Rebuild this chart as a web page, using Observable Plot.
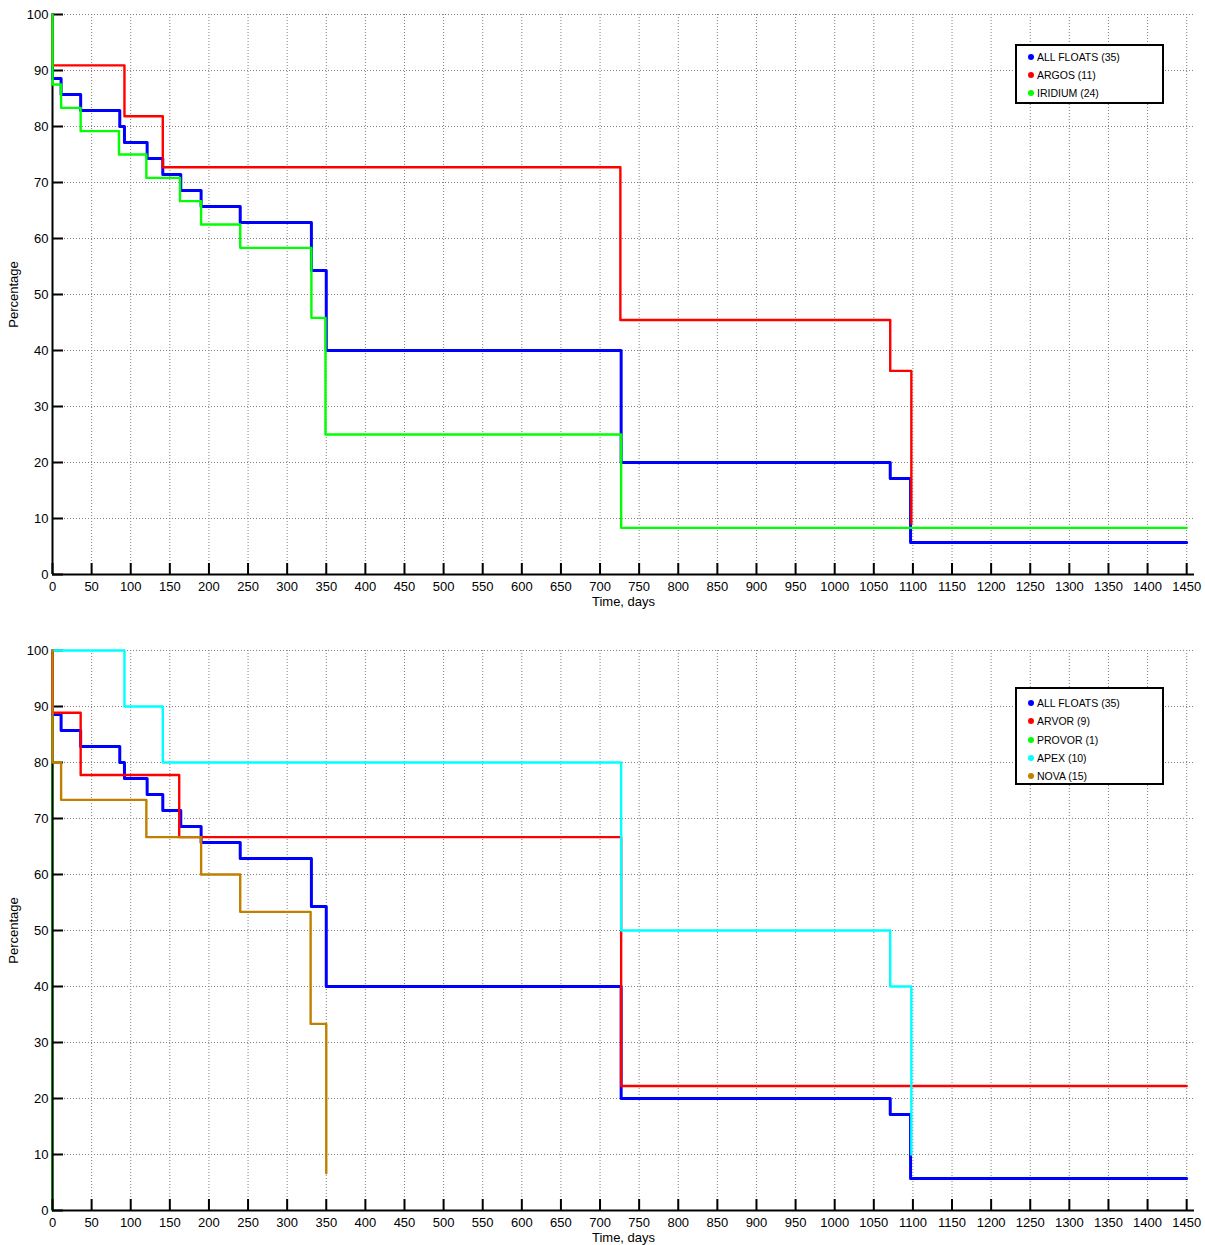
<!DOCTYPE html>
<html>
<head>
<meta charset="utf-8">
<script src="https://cdn.jsdelivr.net/npm/d3@7"></script>
<script src="https://cdn.jsdelivr.net/npm/@observablehq/plot@0.6"></script>
<style>
  html, body { margin: 0; padding: 0; background: #fff; }
  #wrap { position: relative; width: 1205px; height: 1245px; background: #fff; font-family: "Liberation Sans", Arial, Helvetica, sans-serif; }
  .panel { position: absolute; left: 0; }
  .legend { position: absolute; box-sizing: border-box; border: 2px solid #000; background: #fff; font-size: 10.5px; color: #000; }
  .legend .row { position: absolute; left: 0; height: 14px; line-height: 14px; white-space: nowrap; }
  .legend .dot { position: absolute; width: 6px; height: 6px; border-radius: 50%; top: 4px; }
  .legend .lbl { position: absolute; left: 20px; top: 0; }
</style>
</head>
<body>
<div id="wrap"></div>
<script>
// ---------- tick labels ----------
const xTicks = [0,50,100,150,200,250,300,350,400,450,500,550,600,650,700,750,800,850,900,950,1000,1050,1100,1150,1200,1250,1300,1350,1400,1450];
const yTicks = [0,10,20,30,40,50,60,70,80,90,100];

// ---------- series (day of each level start, survival %) ----------
// ALL FLOATS (35)
const allDays = [0, 0, 11, 36, 86, 92, 121, 141, 164, 190, 240, 331, 350, 727, 1071, 1097, 1450];
const allVals = [100, 88.57, 85.71, 82.86, 80, 77.14, 74.29, 71.43, 68.57, 65.71, 62.86, 54.29, 40, 20, 17.14, 5.71, 5.71];
// ARGOS (11)
const argosDays = [0, 0, 92, 141, 726, 1071, 1098];
const argosVals = [100, 90.91, 81.82, 72.73, 45.45, 36.36, 9.09];
// IRIDIUM (24)
const iridiumDays = [0, 0, 11, 36, 85, 120, 163, 190, 240, 331, 349, 727, 1450];
const iridiumVals = [100, 87.5, 83.33, 79.17, 75, 70.83, 66.67, 62.5, 58.33, 45.83, 25, 8.33, 8.33];
// ARVOR (9)
const arvorDays = [0, 0, 36, 162, 727, 1450];
const arvorVals = [100, 88.89, 77.78, 66.67, 22.22, 22.22];
// PROVOR (1)
const provorDays = [0, 0];
const provorVals = [100, 0];
// APEX (10)
const apexDays = [0, 92, 141, 727, 1071, 1098];
const apexVals = [100, 90, 80, 50, 40, 10];
// NOVA (15)
const novaDays = [0, 0, 11, 120, 190, 240, 330, 350];
const novaVals = [100, 80, 73.33, 66.67, 60, 53.33, 33.33, 6.67];

const topNames = ["ALL FLOATS (35)", "ARGOS (11)", "IRIDIUM (24)"];
const bottomNames = ["ALL FLOATS (35)", "ARVOR (9)", "PROVOR (1)", "APEX (10)", "NOVA (15)"];
const topColors = ["#0000ff", "#ff0000", "#00ff00"];
const bottomColors = ["#0000ff", "#ff0000", "#00ff00", "#00ffff", "#bf8000"];

const toRows = (days, vals) => days.map((d, i) => ({day: d, pct: vals[i]}));

const topSeries = [
  {name: topNames[0], color: topColors[0], data: toRows(allDays, allVals), w: 3},
  {name: topNames[1], color: topColors[1], data: toRows(argosDays, argosVals), w: 2.4},
  {name: topNames[2], color: topColors[2], data: toRows(iridiumDays, iridiumVals), w: 2.4}
];
const bottomSeries = [
  {name: bottomNames[0], color: bottomColors[0], data: toRows(allDays, allVals), w: 3},
  {name: bottomNames[1], color: bottomColors[1], data: toRows(arvorDays, arvorVals), w: 2.4},
  {name: bottomNames[2], color: bottomColors[2], data: toRows(provorDays, provorVals), w: 2.4, under: true},
  {name: bottomNames[3], color: bottomColors[3], data: toRows(apexDays, apexVals), w: 2.4},
  {name: bottomNames[4], color: bottomColors[4], data: toRows(novaDays, novaVals), w: 2.4}
];

const FONT = '"Liberation Sans", Arial, Helvetica, sans-serif';

function panel(series, opts) {
  const under = series.filter(s => s.under).map(s =>
    Plot.line(s.data, {x: "day", y: "pct", stroke: s.color, strokeWidth: s.w, curve: "step-after"}));
  const over = series.filter(s => !s.under).map(s =>
    Plot.line(s.data, {x: "day", y: "pct", stroke: s.color, strokeWidth: s.w, curve: "step-after"}));
  return Plot.plot({
    width: 1205,
    height: opts.height,
    marginLeft: 52,
    marginRight: 11,
    marginTop: opts.marginTop,
    marginBottom: opts.marginBottom,
    style: {fontFamily: FONT, fontSize: "13px", background: "transparent", color: "#000"},
    x: {domain: [0, 1460]},
    y: {domain: [0, 100]},
    marks: [
      Plot.gridX(xTicks, {stroke: "#808080", strokeOpacity: 1, strokeWidth: 1, strokeDasharray: "1,2"}),
      Plot.gridY(yTicks, {stroke: "#808080", strokeOpacity: 1, strokeWidth: 1, strokeDasharray: "1,2"}),
      ...under,
      Plot.ruleY([0], {stroke: "#000", strokeWidth: 2}),
      Plot.ruleX([0], {stroke: "#000", strokeWidth: 2}),
      Plot.axisX(xTicks, {tickSize: -11, tickPadding: 18, strokeWidth: 2, tickFormat: d => String(d),
        label: "Time, days", labelAnchor: "center", labelArrow: "none", labelOffset: 31}),
      Plot.axisY(yTicks, {tickSize: -11, tickPadding: 15, strokeWidth: 2, tickFormat: d => String(d),
        label: "Percentage", labelAnchor: "center", labelArrow: "none", labelOffset: 44}),
      ...over
    ]
  });
}

function legend(series, box) {
  const d = document.createElement("div");
  d.className = "legend";
  Object.assign(d.style, {left: box.left + "px", top: box.top + "px", width: box.width + "px", height: box.height + "px"});
  series.forEach((s, i) => {
    const r = document.createElement("div");
    r.className = "row";
    r.style.top = (box.first + i * box.step - 7) + "px";
    r.innerHTML = `<span class="dot" style="left:11px;background:${s.color}"></span><span class="lbl">${s.name}</span>`;
    d.appendChild(r);
  });
  return d;
}

const wrap = document.getElementById("wrap");

const p1 = panel(topSeries, {height: 620, marginTop: 14, marginBottom: 46});
p1.classList.add("panel"); p1.style.top = "0px";
wrap.appendChild(p1);

const p2 = panel(bottomSeries, {height: 625, marginTop: 30, marginBottom: 35});
p2.classList.add("panel"); p2.style.top = "620px";
wrap.appendChild(p2);

wrap.appendChild(legend(topSeries, {left: 1015, top: 44, width: 149, height: 60, first: 11, step: 18}));
wrap.appendChild(legend(bottomSeries, {left: 1015, top: 687, width: 149, height: 98, first: 14, step: 18.3}));
</script>
</body>
</html>
